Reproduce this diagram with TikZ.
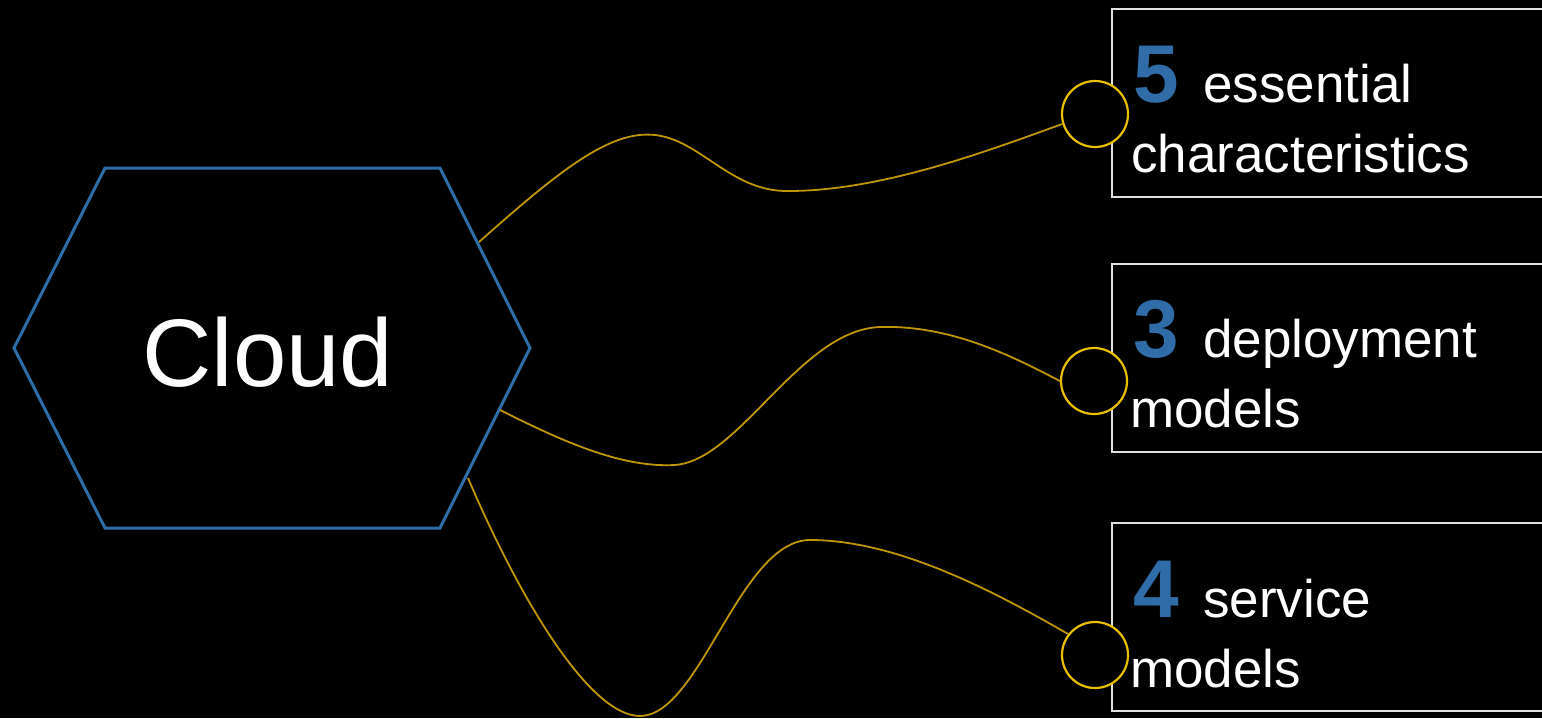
\documentclass[tikz,border=0pt]{standalone}
\usepackage{fontspec}
\setmainfont{Liberation Sans}
\definecolor{hexblue}{RGB}{46,110,168}
\definecolor{numblue}{RGB}{47,108,168}
\definecolor{curvegold}{RGB}{190,150,8}
\definecolor{ringgold}{RGB}{232,192,0}
\definecolor{boxline}{RGB}{225,225,225}
\tikzset{
  hexline/.style={draw=hexblue, line width=3pt, line join=miter},
  ring/.style={circle, draw=ringgold, line width=2.2pt, minimum size=66pt, inner sep=0pt, fill=black},
  link/.style={draw=curvegold, line width=1.8pt},
  infobox/.style={draw=boxline, line width=1.6pt, minimum width=450pt, minimum height=188pt, inner sep=0pt, anchor=north west},
  num/.style={text=numblue, font=\bfseries\fontsize{82}{90}\selectfont, inner sep=0pt, anchor=base west},
  txt/.style={text=white, font=\fontsize{53}{60}\selectfont, inner sep=0pt, anchor=base west},
  cloudtxt/.style={text=white, font=\fontsize{96}{110}\selectfont, inner sep=0pt}
}
\begin{document}
\begin{tikzpicture}[x=1pt, y=-1pt]
\useasboundingbox (0,0) rectangle (1542,718);
\fill[black] (0,0) rectangle (1542,718);
\clip (0,0) rectangle (1542,718);

% hexagon
\coordinate (hl) at (14,348);
\coordinate (htl) at (105,168);
\coordinate (htr) at (440,168);
\coordinate (hr) at (530,348);
\coordinate (hbr) at (440,528);
\coordinate (hbl) at (105,528);
\draw[hexline] (hl) -- (htl) -- (htr) -- (hr) -- (hbr) -- (hbl) -- cycle;
\node[cloudtxt] (cloud) at (268,352) {Cloud};

% connector start points on the hexagon
\coordinate (s1) at (479,242);
\coordinate (s2) at (500,410);
\coordinate (s3) at (468,478);

% boxes
\node[infobox] (b1) at (1111,8) {};
\node[infobox] (b2) at (1111,263) {};
\node[infobox] (b3) at (1111,522) {};

% box texts
\node[num] (n1) at (1133,102) {5};
\node[txt] (t1a) at (1203,102) {essential};
\node[txt] (t1b) at (1131,172) {characteristics};

\node[num] (n2) at (1133,357) {3};
\node[txt] (t2a) at (1203,357) {deployment};
\node[txt] (t2b) at (1130,427) {models};

\node[num] (n3) at (1133,617) {4};
\node[txt] (t3a) at (1203,617) {service};
\node[txt] (t3b) at (1130,687) {models};

% rings
\node[ring] (c1) at (1095,114) {};
\node[ring] (c2) at (1094,381) {};
\node[ring] (c3) at (1095,655) {};

% connectors
\draw[link] (s1) .. controls (560,170) and (610,130) .. (655,135)
  .. controls (700,140) and (730,190) .. (785,191)
  .. controls (880,192) and (990,150) .. (c1.197);
\draw[link] (s2) .. controls (560,440) and (620,468) .. (675,465)
  .. controls (740,460) and (800,330) .. (880,327)
  .. controls (950,325) and (1010,355) .. (c2.180);
\draw[link] (s3) .. controls (520,600) and (590,716) .. (640,716)
  .. controls (700,716) and (740,540) .. (810,540)
  .. controls (900,540) and (1000,595) .. (c3.142);
\end{tikzpicture}
\end{document}
